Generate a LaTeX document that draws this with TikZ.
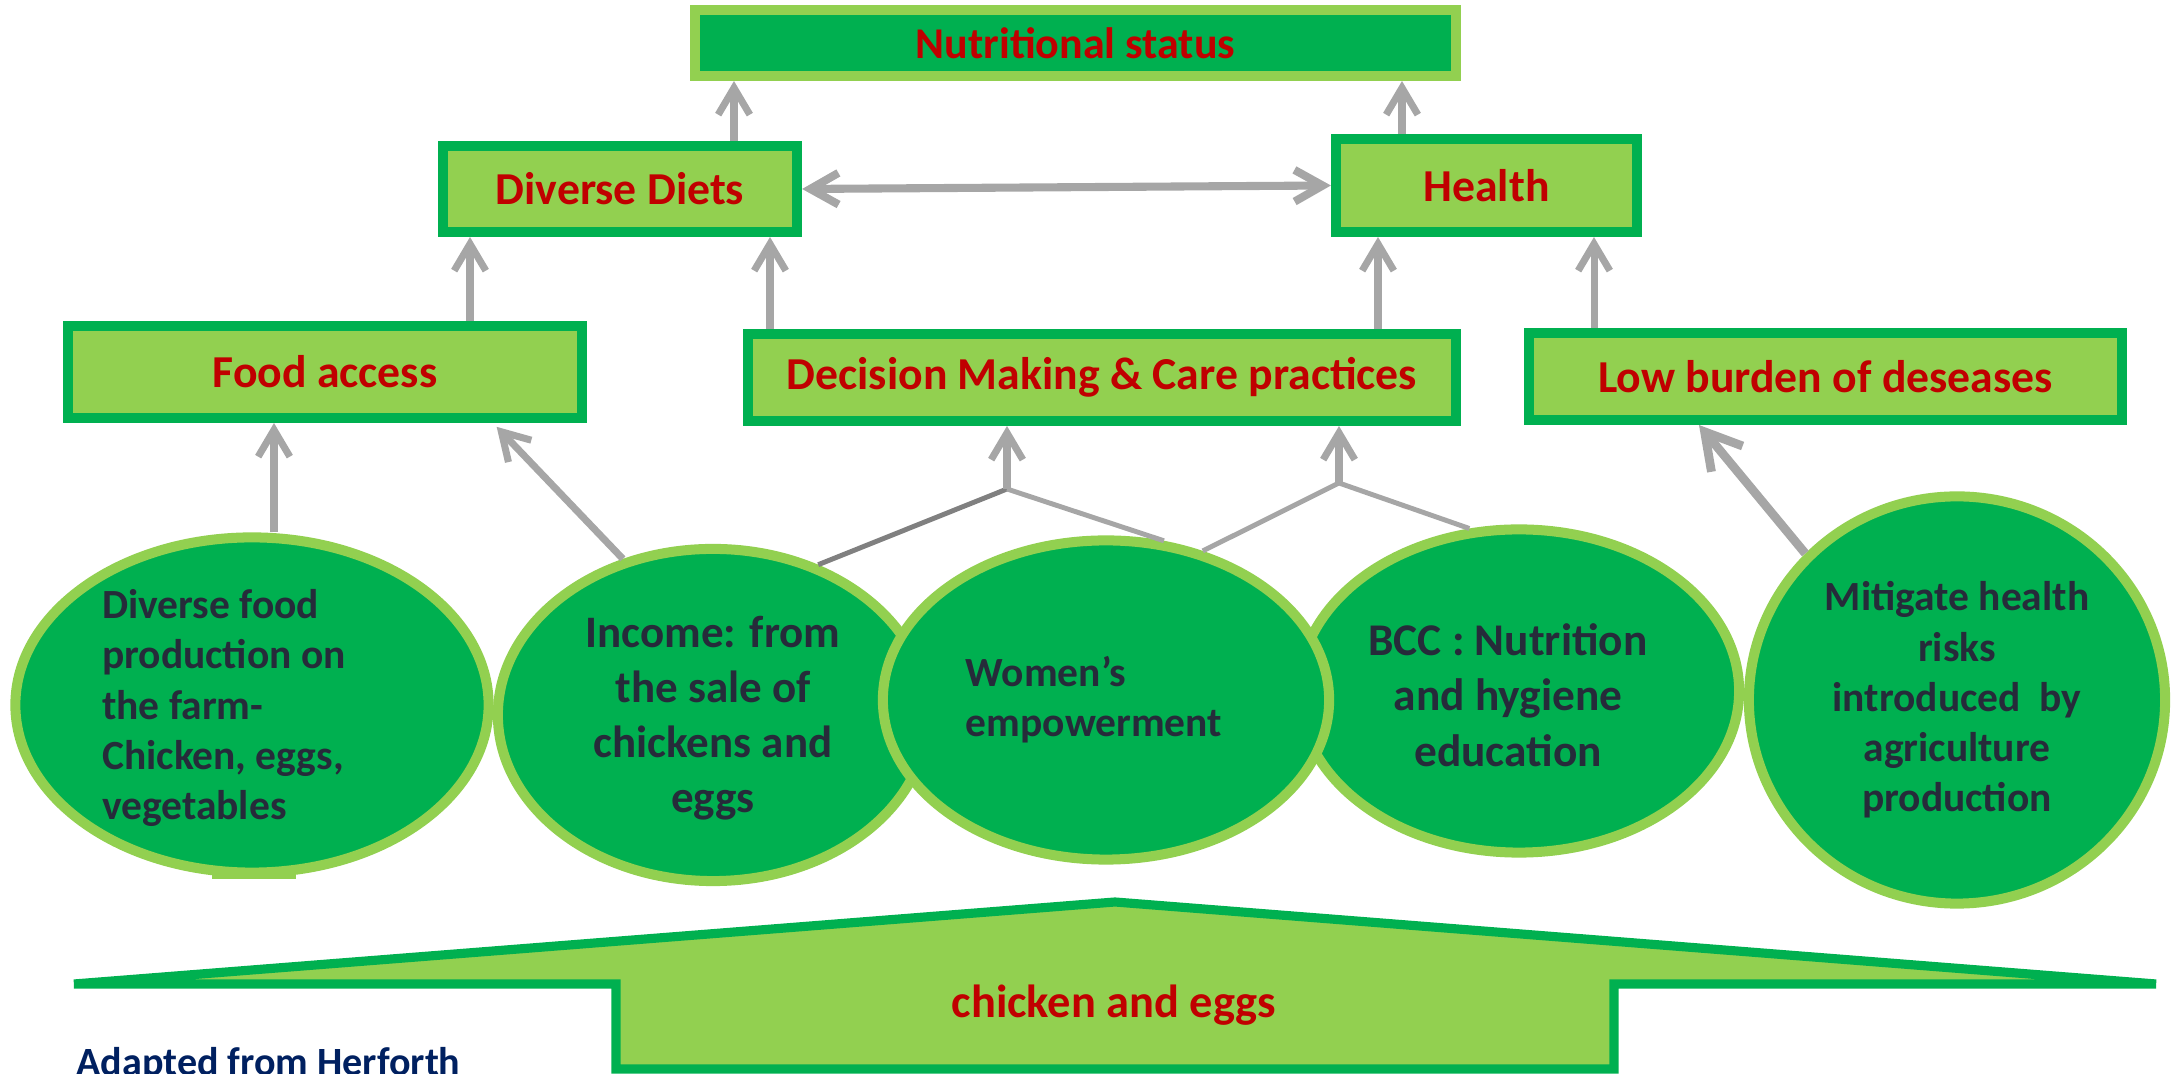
\documentclass[tikz,border=0pt]{standalone}
\usepackage{fontspec}
\setmainfont{Carlito}
\usetikzlibrary{arrows.meta, shapes.geometric, positioning}

\definecolor{leafgreen}{HTML}{92D050}
\definecolor{deepgreen}{HTML}{00B050}
\definecolor{labelred}{HTML}{C00000}
\definecolor{inkdark}{HTML}{262B3A}
\definecolor{linkgray}{HTML}{A6A6A6}
\definecolor{forkgray}{HTML}{808080}
\definecolor{navyblue}{HTML}{002060}

\begin{document}
\begin{tikzpicture}[x=0.01cm, y=-0.01cm]

		% Setup the styles for the boxes and bubbles
		\tikzset{box style/.style={rectangle,
				draw=deepgreen,
				fill=leafgreen,
				line width=2.85pt,
				inner sep=0pt,
				text=labelred,
				font=\bfseries\fontsize{13}{15}\selectfont},
			bubble style/.style={ellipse,
				draw=leafgreen,
				fill=deepgreen,
				line width=2.85pt,
				inner sep=0pt},
			bubble text/.style={text=inkdark,
				inner sep=0pt,
				font=\bfseries\fontsize{11.8}{14.3}\selectfont},
			link/.style={draw=linkgray, line width=1.4pt},
			arrow style/.style={link, line width=2pt, -{Straight Barb[length=7.6pt, width=9pt]}}}

		\useasboundingbox (0,0) rectangle (2172,1074);

		% Draw the boxes
		\node[box style, draw=leafgreen, fill=deepgreen, minimum width=7.61cm, minimum height=0.66cm,
			font=\bfseries\fontsize{12.5}{15}\selectfont] at (1075.5, 43) (status) {Nutritional status};
		\node[box style, minimum width=3.54cm, minimum height=0.86cm] at (620, 189)   (diets)  {Diverse Diets};
		\node[box style, minimum width=3.01cm, minimum height=0.93cm] at (1486.5, 185.5) (health) {Health};
		\node[box style, minimum width=5.14cm, minimum height=0.92cm] at (325, 372)   (access) {Food access};
		\node[box style, minimum width=7.08cm, minimum height=0.87cm] at (1102, 377.5) (care)   {Decision Making \& Care practices};
		\node[box style, minimum width=5.93cm, minimum height=0.87cm] at (1825.5, 376.5) (burden) {Low burden of deseases};

		% Draw the bubbles
		\node[bubble style, minimum width=4.73cm, minimum height=3.35cm] at (252, 705) (farm) {};
		\node[bubble text, align=left] at ([xshift=-0.28cm, yshift=-0.03cm]farm.center) (farmtext)
			{Diverse food\\production on\\the farm-\\Chicken, eggs,\\vegetables};
		\node[bubble style, minimum width=4.30cm, minimum height=3.32cm] at (713, 715) (income) {};
		\node[bubble text, align=center, font=\bfseries\fontsize{12.8}{15.6}\selectfont]
			at ([yshift=-0.03cm]income.center) (incometext) {Income: from\\the sale of\\chickens and\\eggs};
		\node[bubble style, minimum width=4.40cm, minimum height=3.23cm] at (1519, 691) (bcc) {};
		\node[bubble text, align=center, font=\bfseries\fontsize{12.9}{15.8}\selectfont]
			at ([xshift=-0.11cm, yshift=-0.04cm]bcc.center) (bcctext) {BCC : Nutrition\\and hygiene\\education};
		\node[bubble style, minimum width=4.16cm, minimum height=4.07cm] at (1957, 700) (risks) {};
		\node[bubble text, align=center] at (risks.center) (riskstext)
			{Mitigate health\\risks\\introduced\ \ by\\agriculture\\production};
		\node[bubble style, minimum width=4.46cm, minimum height=3.19cm] at (1106, 700) (women) {};
		\node[bubble text, align=left] at ([xshift=-0.12cm]women.center) (womentext) {Women’s\\empowerment};
		\fill[leafgreen] (212, 872) rectangle (296, 879);

		% Draw the base
		\filldraw[draw=deepgreen, fill=leafgreen, line width=2.6pt]
			(74, 984) -- (1115, 902) -- (2156, 984) -- (1614, 984) -- (1614, 1069)
			-- (616, 1069) -- (616, 984) -- cycle;
		\node[text=labelred, font=\bfseries\fontsize{13.2}{15}\selectfont, anchor=base] at (1114, 1018) (chicken) {chicken and eggs};
		\node[text=navyblue, font=\bfseries\fontsize{11.4}{13}\selectfont, anchor=base west, inner sep=0pt]
			at (76, 1076) (source) {Adapted from Herforth};

		% Connect the boxes with arrows
		\coordinate (fork1) at (1007, 489);
		\coordinate (fork2) at (1339, 483);
		\draw[arrow style] (diets.north -| 734,0) -- (status.south -| 734,0);
		\draw[arrow style] (health.north -| 1402,0) -- (status.south -| 1402,0);
		\draw[arrow style, line width=2.3pt, {Straight Barb[length=8pt, width=9pt]}-{Straight Barb[length=8pt, width=9pt]}]
			(diets.east) -- (health.west);
		\draw[arrow style] (access.north -| 470,0) -- (diets.south -| 470,0);
		\draw[arrow style] (care.north -| 770,0) -- (diets.south -| 770,0);
		\draw[arrow style] (care.north -| 1378,0) -- (health.south -| 1378,0);
		\draw[arrow style] (burden.north -| 1594,0) -- (health.south -| 1594,0);
		\draw[arrow style] (farm.north -| 274,0) -- (access.south -| 274,0);
		\draw[arrow style, shorten >=1.5pt] (income.120) -- (access.south -| 493,0);
		\draw[link, draw=forkgray] (income.55) -- (fork1);
		\draw[link] (fork1) -- (women.70);
		\draw[arrow style] (fork1) -- (care.south -| fork1);
		\draw[link] (women.57) -- (fork2) -- (bcc.107);
		\draw[arrow style] (fork2) -- (care.south -| fork2);
		\draw[arrow style, line width=2.5pt, -{Straight Barb[length=10pt, width=11.5pt]}]
			(risks.136) -- (burden.south -| 1699,0);
\end{tikzpicture}
\end{document}
